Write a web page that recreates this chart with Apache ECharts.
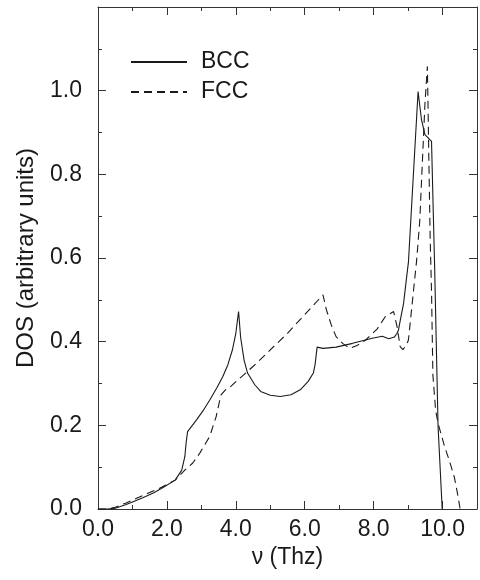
<!DOCTYPE html>
<html>
<head>
<meta charset="utf-8">
<script src="https://cdn.jsdelivr.net/npm/echarts@6/dist/echarts.min.js"></script>
<style>
  html, body { margin: 0; padding: 0; background: #fff; }
  #dosChart { width: 480px; height: 580px; }
</style>
</head>
<body>
<div id="dosChart"></div>
<script>
// values: frequency (THz) and DOS (arb. units)
const bccFreq = [0.0, 0.3, 0.5, 0.8, 1.0, 1.3, 1.62, 1.9, 2.24, 2.43, 2.52, 2.56, 2.6, 2.86, 3.05, 3.24, 3.45, 3.62, 3.77, 3.9, 4.0, 4.08,
  4.14, 4.24, 4.34, 4.55, 4.72, 5.0, 5.29, 5.6, 5.87, 6.1, 6.25, 6.3, 6.36, 6.53, 6.91, 7.39, 7.96, 8.25, 8.44, 8.6, 8.68, 8.72,
  8.87, 8.96, 9.01, 9.29, 9.39, 9.49, 9.68, 9.77, 9.87, 9.99];
const bccDos = [0.0, 0.0, 0.002, 0.01, 0.017, 0.027, 0.039, 0.052, 0.069, 0.093, 0.125, 0.16, 0.185, 0.213, 0.235, 0.26, 0.29, 0.316, 0.345, 0.38, 0.42, 0.472,
  0.41, 0.356, 0.325, 0.297, 0.281, 0.272, 0.269, 0.273, 0.285, 0.305, 0.325, 0.345, 0.387, 0.384, 0.387, 0.396, 0.408, 0.413, 0.407, 0.411, 0.42, 0.428,
  0.492, 0.556, 0.59, 0.998, 0.93, 0.895, 0.879, 0.58, 0.197, 0.0];

const fccFreq = [0.0, 0.3, 0.5, 0.8, 1.1, 1.43, 1.8, 2.24, 2.52, 2.75, 2.95, 3.24, 3.43, 3.52, 3.57, 3.7, 3.81, 4.49, 5.5, 6.53,
  6.63, 6.77, 6.91, 7.1, 7.3, 7.5, 7.77, 8.1, 8.34, 8.58, 8.68, 8.77, 8.85, 8.95, 9.01, 9.15, 9.25, 9.34, 9.49, 9.56,
  9.6, 9.64, 9.68, 9.72, 9.8, 9.87, 10.06, 10.2, 10.34, 10.45, 10.51];
const fccDos = [0.0, 0.0, 0.004, 0.014, 0.025, 0.037, 0.05, 0.069, 0.093, 0.11, 0.133, 0.173, 0.221, 0.255, 0.273, 0.285, 0.29, 0.34, 0.42, 0.512,
  0.476, 0.44, 0.412, 0.396, 0.384, 0.39, 0.404, 0.43, 0.46, 0.472, 0.436, 0.388, 0.381, 0.392, 0.404, 0.516, 0.596, 0.69, 0.97, 1.058,
  0.85, 0.65, 0.52, 0.32, 0.235, 0.205, 0.149, 0.115, 0.077, 0.03, 0.0];

const xTickLabels = ['0.0', '2.0', '4.0', '6.0', '8.0', '10.0'];
const yTickLabels = ['0.0', '0.2', '0.4', '0.6', '0.8', '1.0'];

const FONT = 'Liberation Sans, Arial, Helvetica, sans-serif';
const INK = '#1a1a1a';

function pairs(xs, ys) {
  return xs.map((x, i) => [x, ys[i]]);
}

function tickLabel(list) {
  return (value) => {
    const s = value.toFixed(1);
    return list.indexOf(s) >= 0 ? s : '';
  };
}

// shared look for the four frame axes (ticks point inward)
function frameAxis(extra) {
  return Object.assign({
    type: 'value',
    axisLine: { show: true, onZero: false, lineStyle: { color: '#333', width: 1 } },
    axisTick: { show: true, inside: true, length: 8, lineStyle: { color: '#333' } },
    minorTick: { show: true, splitNumber: 2, length: 4, lineStyle: { color: '#333' } },
    splitLine: { show: false },
    minorSplitLine: { show: false },
    axisLabel: { show: false }
  }, extra);
}

const chart = echarts.init(document.getElementById('dosChart'));

chart.setOption({
  animation: false,
  backgroundColor: '#fff',
  textStyle: { fontFamily: FONT, color: INK },
  grid: { left: 98, top: 7, right: -3, bottom: 71 },
  legend: {
    orient: 'vertical',
    left: 130,
    top: 49,
    padding: 0,
    itemWidth: 56,
    itemHeight: 14,
    itemGap: 4,
    itemStyle: { opacity: 0 },
    textStyle: { fontFamily: FONT, fontSize: 23, color: INK, lineHeight: 26, padding: [0, 0, 0, 9] },
    data: ['BCC', 'FCC']
  },
  xAxis: [
    frameAxis({
      position: 'bottom', min: 0, max: 11, interval: 2,
      name: 'ν (Thz)', nameLocation: 'middle', nameGap: 35,
      nameTextStyle: { fontFamily: FONT, fontSize: 23, color: INK },
      axisLabel: { show: true, margin: 9, fontSize: 23, color: INK, fontFamily: FONT, formatter: tickLabel(xTickLabels) }
    }),
    frameAxis({ position: 'top', min: 0, max: 11, interval: 2 })
  ],
  yAxis: [
    frameAxis({
      position: 'left', min: 0, max: 1.2, interval: 0.2,
      name: 'DOS (arbitrary units)', nameLocation: 'middle', nameGap: 60,
      nameTextStyle: { fontFamily: FONT, fontSize: 24, color: INK },
      axisLabel: { show: true, margin: 16, fontSize: 23, color: INK, fontFamily: FONT, formatter: tickLabel(yTickLabels) }
    }),
    frameAxis({ position: 'right', min: 0, max: 1.2, interval: 0.2 })
  ],
  series: [
    {
      name: 'BCC',
      type: 'line',
      data: pairs(bccFreq, bccDos),
      showSymbol: false,
      symbol: 'none',
      lineStyle: { color: INK, width: 1.1 },
      itemStyle: { color: INK }
    },
    {
      name: 'FCC',
      type: 'line',
      data: pairs(fccFreq, fccDos),
      showSymbol: false,
      symbol: 'none',
      lineStyle: { color: INK, width: 1.1, type: [8, 5] },
      itemStyle: { color: INK }
    }
  ]
});
</script>
</body>
</html>
